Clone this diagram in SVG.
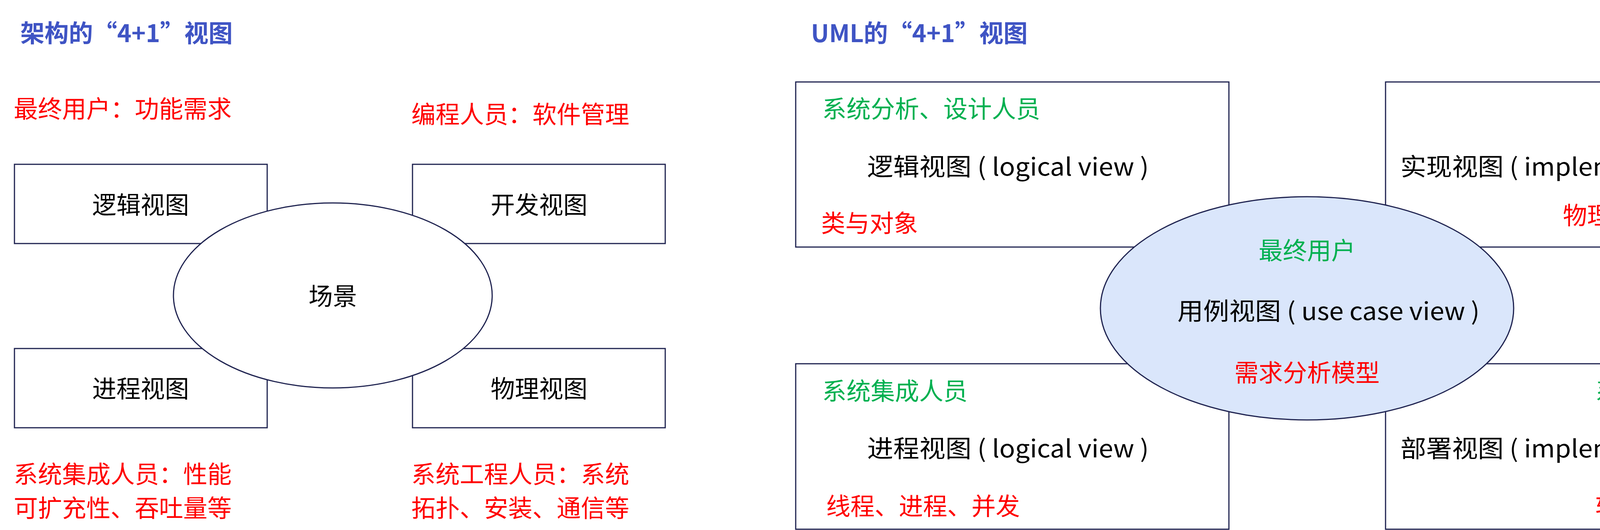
<svg xmlns="http://www.w3.org/2000/svg" width="4656" height="1358" viewBox="0 0 4656 1358">
<style>
text{font-family:"Noto Sans CJK SC","Noto Sans",sans-serif;font-size:62px;}
.t{font-weight:bold;fill:#3F54C4;}
.r{fill:#FF0000;}
.g{fill:#00B050;}
.k{fill:#000;}
.box{fill:#fff;stroke:#1F2350;stroke-width:3;}
.c{text-anchor:middle;}
.e{text-anchor:end;}
</style>
<rect width="4656" height="1358" fill="#fff"/>
<text class="t" x="52" y="108">架构的“4+1”视图</text>
<text class="t" x="2076" y="108">UML的“4+1”视图</text>
<g id="left">
<text class="r" x="35" y="302">最终用户：功能需求</text>
<text class="r" x="1053" y="316">编程人员：软件管理</text>
<g id="logical"><rect class="box" x="37" y="421" width="647" height="203"/><text class="k c" x="360" y="548">逻辑视图</text></g>
<g id="dev"><rect class="box" x="1056" y="421" width="647" height="203"/><text class="k c" x="1380" y="548">开发视图</text></g>
<g id="process"><rect class="box" x="37" y="893" width="647" height="203"/><text class="k c" x="360" y="1019">进程视图</text></g>
<g id="physical"><rect class="box" x="1056" y="893" width="647" height="203"/><text class="k c" x="1380" y="1019">物理视图</text></g>
<g id="scene"><ellipse class="box" cx="852" cy="757" rx="408" ry="237"/><text class="k c" x="852" y="782">场景</text></g>
<text class="r" x="35" y="1238">系统集成人员：性能</text>
<text class="r" x="35" y="1325">可扩充性、吞吐量等</text>
<text class="r" x="1053" y="1238">系统工程人员：系统</text>
<text class="r" x="1053" y="1325">拓扑、安装、通信等</text>
</g>
<g id="right">
<g id="uml-logical"><rect class="box" x="2037" y="210" width="1109" height="423"/>
<text class="g" x="2105" y="302">系统分析、设计人员</text>
<text class="k" x="2220" y="450" textLength="721" lengthAdjust="spacingAndGlyphs">逻辑视图 ( logical view )</text>
<text class="r" x="2102" y="595">类与对象</text></g>
<g id="uml-impl"><rect class="box" x="3547" y="210" width="1110" height="423"/>
<text class="g e" x="4568" y="302">程序员</text>
<text class="k" x="3585" y="450" textLength="1008" lengthAdjust="spacingAndGlyphs">实现视图 ( implementation view )</text>
<text class="r e" x="4559" y="575">物理代码文件和组件</text></g>
<g id="uml-process"><rect class="box" x="2037" y="932" width="1109" height="424"/>
<text class="g" x="2105" y="1025">系统集成人员</text>
<text class="k" x="2220" y="1172" textLength="721" lengthAdjust="spacingAndGlyphs">进程视图 ( logical view )</text>
<text class="r" x="2115" y="1320">线程、进程、并发</text></g>
<g id="uml-deploy"><rect class="box" x="3547" y="932" width="1110" height="424"/>
<text class="g e" x="4580" y="1025">系统和网络工程师</text>
<text class="k" x="3585" y="1172" textLength="1008" lengthAdjust="spacingAndGlyphs">部署视图 ( implementation view )</text>
<text class="r e" x="4580" y="1320">软件到硬件的映射</text></g>
<g id="uml-usecase"><ellipse cx="3346" cy="790" rx="529" ry="286" fill="#DAE6FB" stroke="#1F2350" stroke-width="3"/>
<text class="g c" x="3346" y="665">最终用户</text>
<text class="k c" x="3401" y="820" textLength="774" lengthAdjust="spacingAndGlyphs">用例视图 ( use case view )</text>
<text class="r c" x="3346" y="978">需求分析模型</text></g>
</g>
<g id="connectors"/>
<text x="4640" y="1345" text-anchor="end" style="font-size:14px;fill:#999">CSDN @Allen Su</text>
</svg>
